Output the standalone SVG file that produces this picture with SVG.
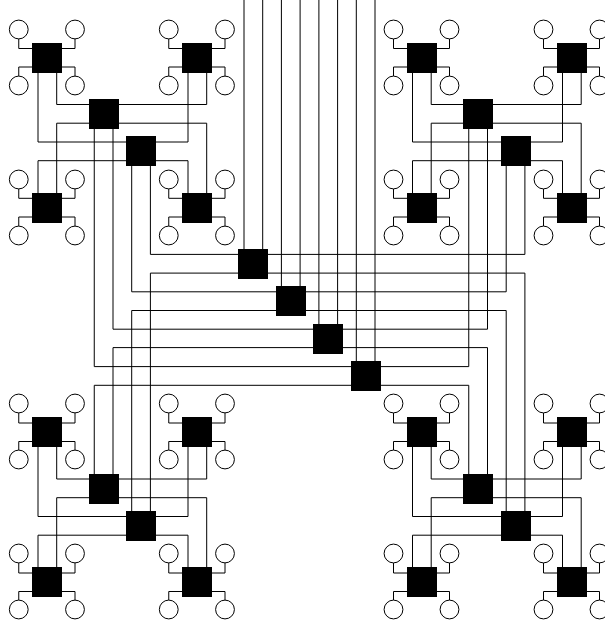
<svg xmlns="http://www.w3.org/2000/svg" width="605" height="626" viewBox="0 0 605 626">
<style>
path{fill:none;stroke:#000;stroke-width:1}
circle{fill:#fff;stroke:#000;stroke-width:1}
rect{fill:#000}
</style>
<rect x="0" y="0" width="605" height="626" style="fill:#fff"/>
<g id="connectors">
<path d="M244,0V249M262.7,0V249M281.4,0V286M300.1,0V286M318.9,0V324M337.6,0V324M356.3,0V361M375,0V361"/>
<path d="M150.4,166V254.4H524.9V166M150.4,511V273.1H524.9V511M131.7,166V291.8H506.2V166M131.7,511V310.5H506.2V511M113,129V329.2H487.5V129M113,474V347.6H487.5V474M94.25,129V366.6H468.75V129M94.25,474V385.3H468.75V474"/>
<path d="M56.7,73V104.5H206.7V73M56.7,193V123.2H206.7V193M38,73V142H188V73M38,193V160.7H188V193"/>
<path d="M431.2,73V104.5H581.2V73M431.2,193V123.2H581.2V193M412.5,73V142H562.5V73M412.5,193V160.7H562.5V193"/>
<path d="M56.7,447V479H206.7V447M56.7,567V497.7H206.7V567M38,447V516.5H188V447M38,567V535.2H188V567"/>
<path d="M431.2,447V479H581.2V447M431.2,567V497.7H581.2V567M412.5,447V516.5H562.5V447M412.5,567V535.2H562.5V567"/>
<path d="M18.75,39V48.5H32M75,39V48.5H62M18.75,76V67H32M75,76V67H62M168.75,39V48.5H182M225,39V48.5H212M168.75,76V67H182M225,76V67H212"/>
<path d="M18.75,189V198.3H32M75,189V198.3H62M18.75,226V217H32M75,226V217H62M168.75,189V198.3H182M225,189V198.3H212M168.75,226V217H182M225,226V217H212"/>
<path d="M393.5,39V48.5H407M449.5,39V48.5H437M393.5,76V67H407M449.5,76V67H437M543.5,39V48.5H557M599.5,39V48.5H587M543.5,76V67H557M599.5,76V67H587"/>
<path d="M393.5,189V198.3H407M449.5,189V198.3H437M393.5,226V217H407M449.5,226V217H437M543.5,189V198.3H557M599.5,189V198.3H587M543.5,226V217H557M599.5,226V217H587"/>
<path d="M18.75,413V423H32M75,413V423H62M18.75,450V441.5H32M75,450V441.5H62M168.75,413V423H182M225,413V423H212M168.75,450V441.5H182M225,450V441.5H212"/>
<path d="M18.75,563V573H32M75,563V573H62M18.75,600V591.5H32M75,600V591.5H62M168.75,563V573H182M225,563V573H212M168.75,600V591.5H182M225,600V591.5H212"/>
<path d="M393.5,413V423H407M449.5,413V423H437M393.5,450V441.5H407M449.5,450V441.5H437M543.5,413V423H557M599.5,413V423H587M543.5,450V441.5H557M599.5,450V441.5H587"/>
<path d="M393.5,563V573H407M449.5,563V573H437M393.5,600V591.5H407M449.5,600V591.5H437M543.5,563V573H557M599.5,563V573H587M543.5,600V591.5H557M599.5,600V591.5H587"/>
</g>
<g id="core1"><rect x="238" y="249" width="30" height="30"/></g>
<g id="core2"><rect x="276" y="286" width="30" height="30"/></g>
<g id="core3"><rect x="313" y="324" width="30" height="30"/></g>
<g id="core4"><rect x="351" y="361" width="30" height="30"/></g>
<g id="agg-tl-a"><rect x="89" y="99" width="30" height="30"/></g>
<g id="agg-tl-b"><rect x="126" y="136" width="30" height="30"/></g>
<g id="agg-tr-a"><rect x="463" y="99" width="30" height="30"/></g>
<g id="agg-tr-b"><rect x="501" y="136" width="30" height="30"/></g>
<g id="agg-bl-a"><rect x="89" y="474" width="30" height="30"/></g>
<g id="agg-bl-b"><rect x="126" y="511" width="30" height="30"/></g>
<g id="agg-br-a"><rect x="463" y="474" width="30" height="30"/></g>
<g id="agg-br-b"><rect x="501" y="511" width="30" height="30"/></g>
<g id="edge-1"><rect x="32" y="43" width="30" height="30"/></g>
<g id="edge-2"><rect x="182" y="43" width="30" height="30"/></g>
<g id="edge-3"><rect x="32" y="193" width="30" height="30"/></g>
<g id="edge-4"><rect x="182" y="193" width="30" height="30"/></g>
<g id="edge-5"><rect x="407" y="43" width="30" height="30"/></g>
<g id="edge-6"><rect x="557" y="43" width="30" height="30"/></g>
<g id="edge-7"><rect x="407" y="193" width="30" height="30"/></g>
<g id="edge-8"><rect x="557" y="193" width="30" height="30"/></g>
<g id="edge-9"><rect x="32" y="417" width="30" height="30"/></g>
<g id="edge-10"><rect x="182" y="417" width="30" height="30"/></g>
<g id="edge-11"><rect x="32" y="567" width="30" height="30"/></g>
<g id="edge-12"><rect x="182" y="567" width="30" height="30"/></g>
<g id="edge-13"><rect x="407" y="417" width="30" height="30"/></g>
<g id="edge-14"><rect x="557" y="417" width="30" height="30"/></g>
<g id="edge-15"><rect x="407" y="567" width="30" height="30"/></g>
<g id="edge-16"><rect x="557" y="567" width="30" height="30"/></g>
<g id="h1"><circle cx="18.75" cy="29.5" r="9.4"/></g>
<g id="h2"><circle cx="75" cy="29.5" r="9.4"/></g>
<g id="h3"><circle cx="18.75" cy="85.5" r="9.4"/></g>
<g id="h4"><circle cx="75" cy="85.5" r="9.4"/></g>
<g id="h5"><circle cx="168.75" cy="29.5" r="9.4"/></g>
<g id="h6"><circle cx="225" cy="29.5" r="9.4"/></g>
<g id="h7"><circle cx="168.75" cy="85.5" r="9.4"/></g>
<g id="h8"><circle cx="225" cy="85.5" r="9.4"/></g>
<g id="h9"><circle cx="18.75" cy="179.5" r="9.4"/></g>
<g id="h10"><circle cx="75" cy="179.5" r="9.4"/></g>
<g id="h11"><circle cx="18.75" cy="235.5" r="9.4"/></g>
<g id="h12"><circle cx="75" cy="235.5" r="9.4"/></g>
<g id="h13"><circle cx="168.75" cy="179.5" r="9.4"/></g>
<g id="h14"><circle cx="225" cy="179.5" r="9.4"/></g>
<g id="h15"><circle cx="168.75" cy="235.5" r="9.4"/></g>
<g id="h16"><circle cx="225" cy="235.5" r="9.4"/></g>
<g id="h17"><circle cx="393.5" cy="29.5" r="9.4"/></g>
<g id="h18"><circle cx="449.5" cy="29.5" r="9.4"/></g>
<g id="h19"><circle cx="393.5" cy="85.5" r="9.4"/></g>
<g id="h20"><circle cx="449.5" cy="85.5" r="9.4"/></g>
<g id="h21"><circle cx="543.5" cy="29.5" r="9.4"/></g>
<g id="h22"><circle cx="599.5" cy="29.5" r="9.4"/></g>
<g id="h23"><circle cx="543.5" cy="85.5" r="9.4"/></g>
<g id="h24"><circle cx="599.5" cy="85.5" r="9.4"/></g>
<g id="h25"><circle cx="393.5" cy="179.5" r="9.4"/></g>
<g id="h26"><circle cx="449.5" cy="179.5" r="9.4"/></g>
<g id="h27"><circle cx="393.5" cy="235.5" r="9.4"/></g>
<g id="h28"><circle cx="449.5" cy="235.5" r="9.4"/></g>
<g id="h29"><circle cx="543.5" cy="179.5" r="9.4"/></g>
<g id="h30"><circle cx="599.5" cy="179.5" r="9.4"/></g>
<g id="h31"><circle cx="543.5" cy="235.5" r="9.4"/></g>
<g id="h32"><circle cx="599.5" cy="235.5" r="9.4"/></g>
<g id="h33"><circle cx="18.75" cy="403.5" r="9.4"/></g>
<g id="h34"><circle cx="75" cy="403.5" r="9.4"/></g>
<g id="h35"><circle cx="18.75" cy="459.5" r="9.4"/></g>
<g id="h36"><circle cx="75" cy="459.5" r="9.4"/></g>
<g id="h37"><circle cx="168.75" cy="403.5" r="9.4"/></g>
<g id="h38"><circle cx="225" cy="403.5" r="9.4"/></g>
<g id="h39"><circle cx="168.75" cy="459.5" r="9.4"/></g>
<g id="h40"><circle cx="225" cy="459.5" r="9.4"/></g>
<g id="h41"><circle cx="18.75" cy="553.5" r="9.4"/></g>
<g id="h42"><circle cx="75" cy="553.5" r="9.4"/></g>
<g id="h43"><circle cx="18.75" cy="609.5" r="9.4"/></g>
<g id="h44"><circle cx="75" cy="609.5" r="9.4"/></g>
<g id="h45"><circle cx="168.75" cy="553.5" r="9.4"/></g>
<g id="h46"><circle cx="225" cy="553.5" r="9.4"/></g>
<g id="h47"><circle cx="168.75" cy="609.5" r="9.4"/></g>
<g id="h48"><circle cx="225" cy="609.5" r="9.4"/></g>
<g id="h49"><circle cx="393.5" cy="403.5" r="9.4"/></g>
<g id="h50"><circle cx="449.5" cy="403.5" r="9.4"/></g>
<g id="h51"><circle cx="393.5" cy="459.5" r="9.4"/></g>
<g id="h52"><circle cx="449.5" cy="459.5" r="9.4"/></g>
<g id="h53"><circle cx="543.5" cy="403.5" r="9.4"/></g>
<g id="h54"><circle cx="599.5" cy="403.5" r="9.4"/></g>
<g id="h55"><circle cx="543.5" cy="459.5" r="9.4"/></g>
<g id="h56"><circle cx="599.5" cy="459.5" r="9.4"/></g>
<g id="h57"><circle cx="393.5" cy="553.5" r="9.4"/></g>
<g id="h58"><circle cx="449.5" cy="553.5" r="9.4"/></g>
<g id="h59"><circle cx="393.5" cy="609.5" r="9.4"/></g>
<g id="h60"><circle cx="449.5" cy="609.5" r="9.4"/></g>
<g id="h61"><circle cx="543.5" cy="553.5" r="9.4"/></g>
<g id="h62"><circle cx="599.5" cy="553.5" r="9.4"/></g>
<g id="h63"><circle cx="543.5" cy="609.5" r="9.4"/></g>
<g id="h64"><circle cx="599.5" cy="609.5" r="9.4"/></g>
</svg>
